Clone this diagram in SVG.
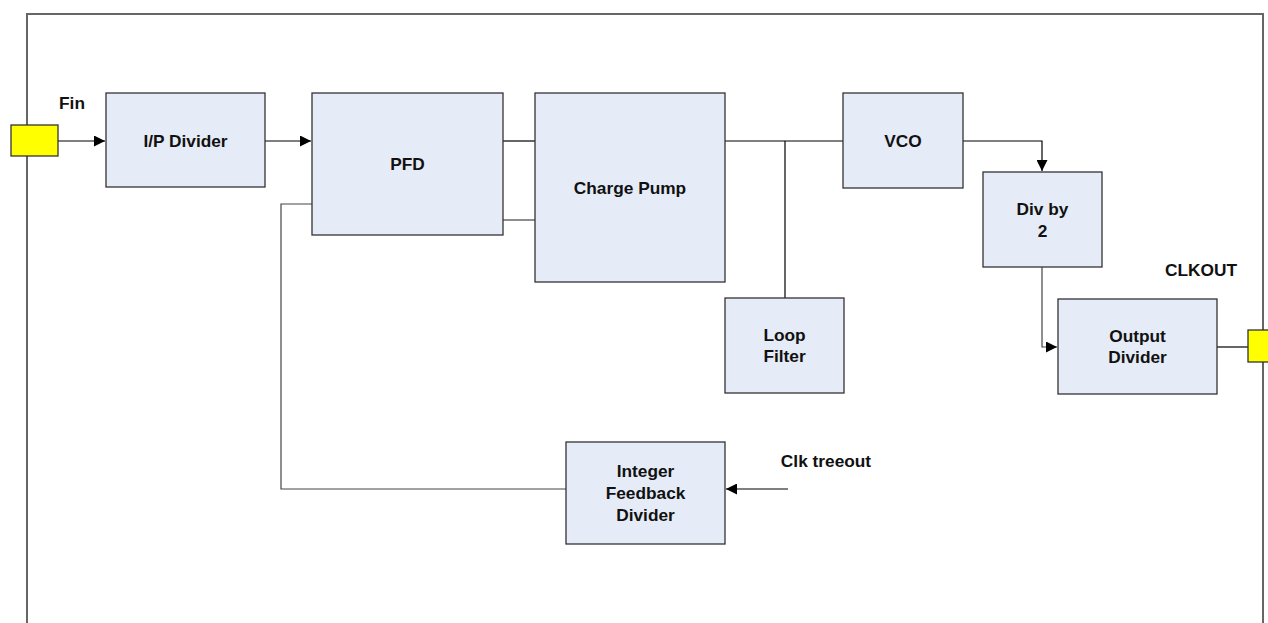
<svg xmlns="http://www.w3.org/2000/svg" width="1268" height="623" viewBox="0 0 1268 623">
<defs>
<style>
.box{fill:#E6ECF7;stroke:#333;stroke-width:1.3}
.port{fill:#FFFF00;stroke:#333;stroke-width:1.3}
.t{font-family:"Liberation Sans",Arial,sans-serif;font-weight:bold;font-size:17.3px;fill:#111;text-anchor:middle;dominant-baseline:central}
.w{fill:none;stroke:#000;stroke-width:1.2}
.g{fill:none;stroke:#444;stroke-width:1.2}
</style>
<marker id="ah" viewBox="0 0 10 10" refX="10" refY="5" markerWidth="11" markerHeight="11" markerUnits="userSpaceOnUse" orient="auto">
<path d="M0,0 L10,5 L0,10 z" fill="#000"/>
</marker>
</defs>
<rect width="1268" height="623" fill="#fff"/>
<g id="frame">
<path d="M27,623 V14 H1263 V623" fill="none" stroke="#666" stroke-width="2"/>
</g>
<g id="connectors">
<path class="w" d="M58,141 H105" marker-end="url(#ah)"/>
<path class="w" d="M265,141 H311" marker-end="url(#ah)"/>
<path class="w" d="M503,141 H535"/>
<path class="g" d="M503,220 H535"/>
<path class="w" d="M725,141 H843"/>
<path class="w" d="M785,141 V298"/>
<path class="w" d="M963,141 H1042 V171" marker-end="url(#ah)"/>
<path class="g" d="M1042,267 V347 H1057" marker-end="url(#ah)"/>
<path class="w" d="M1217,347 H1248"/>
<path class="g" d="M312,204 H281 V489 H566"/>
<path class="w" d="M788,489 H726" marker-end="url(#ah)"/>
</g>
<g id="fin-port"><rect class="port" x="11" y="125" width="47" height="31"/></g>
<g id="clkout-port"><rect class="port" x="1248" y="330" width="24" height="32"/></g>
<g id="ip-divider"><rect class="box" x="106" y="93" width="159" height="94"/><text class="t" x="185.5" y="141">I/P Divider</text></g>
<g id="pfd"><rect class="box" x="312" y="93" width="191" height="142"/><text class="t" x="407.5" y="164">PFD</text></g>
<g id="charge-pump"><rect class="box" x="535" y="93" width="190" height="189"/><text class="t" x="630" y="187.5">Charge Pump</text></g>
<g id="vco"><rect class="box" x="843" y="93" width="120" height="95"/><text class="t" x="903" y="140.5">VCO</text></g>
<g id="div-by-2"><rect class="box" x="983" y="172" width="119" height="95"/><text class="t" x="1042.5" y="209">Div by</text><text class="t" x="1042.5" y="231">2</text></g>
<g id="loop-filter"><rect class="box" x="725" y="298" width="119" height="95"/><text class="t" x="784.5" y="335">Loop</text><text class="t" x="784.5" y="356">Filter</text></g>
<g id="output-divider"><rect class="box" x="1058" y="299" width="159" height="95"/><text class="t" x="1137.5" y="336">Output</text><text class="t" x="1137.5" y="357">Divider</text></g>
<g id="int-fb-divider"><rect class="box" x="566" y="442" width="159" height="102"/><text class="t" x="645.5" y="471">Integer</text><text class="t" x="645.5" y="493">Feedback</text><text class="t" x="645.5" y="515">Divider</text></g>
<g id="labels">
<text class="t" x="72" y="103">Fin</text>
<text class="t" x="1201" y="270">CLKOUT</text>
<text class="t" x="826" y="461">Clk treeout</text>
</g>
</svg>
